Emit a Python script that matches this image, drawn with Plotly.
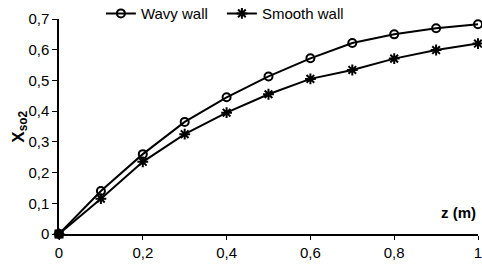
import plotly.graph_objects as go

z = [0, 0.1, 0.2, 0.3, 0.4, 0.5, 0.6, 0.7, 0.8, 0.9, 1.0]
wavy = [0, 0.14, 0.26, 0.365, 0.445, 0.513, 0.572, 0.622, 0.65, 0.67, 0.683]
smooth = [0, 0.115, 0.235, 0.325, 0.395, 0.455, 0.505, 0.534, 0.571, 0.599, 0.62]
ytick_vals = [0, 0.1, 0.2, 0.3, 0.4, 0.5, 0.6, 0.7]
ytick_text = ["0", "0,1", "0,2", "0,3", "0,4", "0,5", "0,6", "0,7"]
xtick_vals = [0, 0.2, 0.4, 0.6, 0.8, 1.0]
xtick_text = ["0", "0,2", "0,4", "0,6", "0,8", "1"]

fig = go.Figure()
fig.add_trace(go.Scatter(
    x=z, y=wavy, name="Wavy wall", mode="lines+markers", cliponaxis=False,
    line=dict(color="black", width=2),
    marker=dict(symbol="circle-open", size=8, color="black", line=dict(width=2)),
))
fig.add_trace(go.Scatter(
    x=z, y=smooth, name="Smooth wall", mode="lines+markers", cliponaxis=False,
    line=dict(color="black", width=2),
    marker=dict(symbol="asterisk-open", size=9, color="black", line=dict(width=2)),
))
fig.add_trace(go.Scatter(
    x=z[:1], y=smooth[:1], mode="markers", showlegend=False, cliponaxis=False,
    marker=dict(symbol="square", size=9, color="black", line=dict(width=0)),
))

fig.update_layout(
    width=482, height=267,
    margin=dict(l=59, r=4, t=19, b=33, autoexpand=False),
    paper_bgcolor="white", plot_bgcolor="white",
    font=dict(family="Liberation Sans, Arial, sans-serif", size=15, color="black"),
    showlegend=True,
    legend=dict(orientation="h", x=0.1, y=1.025, xanchor="left", yanchor="middle",
                bgcolor="rgba(0,0,0,0)", font=dict(size=15),
                entrywidthmode="pixels", entrywidth=76),
    xaxis=dict(range=[0, 1], tickmode="array", tickvals=xtick_vals, ticktext=xtick_text,
               showgrid=False, zeroline=False, automargin=False, ticklabeloverflow="allow",
               showline=True, linecolor="black", linewidth=1.5, ticks="outside",
               ticklen=4, tickcolor="black"),
    yaxis=dict(range=[0, 0.7], tickmode="array", tickvals=ytick_vals, ticktext=ytick_text,
               showgrid=False, zeroline=False, automargin=False, ticklabeloverflow="allow",
               showline=True, linecolor="black", linewidth=1.5, ticks="outside",
               ticklen=5, tickcolor="black"),
    annotations=[
        dict(text="<b>z (m)</b>", x=1.0, y=0.1, xref="paper", yref="paper",
             xanchor="right", yanchor="middle", showarrow=False, font=dict(size=15)),
        dict(text="<b>X<sub>so2</sub></b>", x=-0.095, y=0.5, xref="paper", yref="paper",
             xanchor="center", yanchor="middle", showarrow=False, textangle=-90,
             font=dict(size=17)),
    ],
)
fig.write_html("out.html", config={"displayModeBar": False},
               post_script="document.body.style.margin='0';")
